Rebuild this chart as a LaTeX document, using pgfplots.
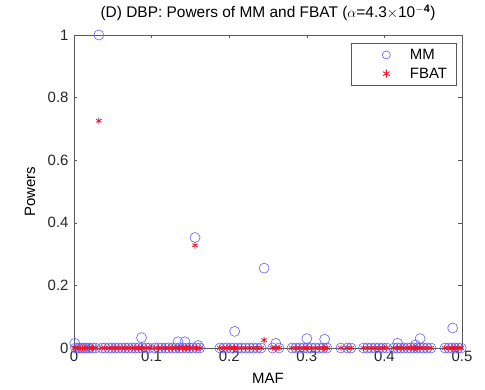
\documentclass[border=0pt]{standalone}
\usepackage{pgfplots}
\pgfplotsset{compat=1.18}
\usepackage{fontspec}
\setmainfont{Liberation Sans}
\definecolor{mmblue}{RGB}{95,95,245}
\definecolor{fbred}{RGB}{235,20,40}
\begin{document}
\begin{tikzpicture}
\useasboundingbox (-74bp,-42bp) rectangle (411bp,348bp);
\begin{axis}[
  scale only axis,
  width=388bp, height=313bp,
  at={(0,0)}, anchor=south west,
  xmin=0, xmax=0.5, ymin=0, ymax=1,
  xtick={0,0.1,...,0.5}, ytick={0,0.2,...,1},
  xticklabels={0,0.1,0.2,0.3,0.4,0.5},
  yticklabels={0,0.2,0.4,0.6,0.8,1},
  tick align=inside, tick pos=both,
  major tick length=3.5bp,
  axis line style={gray!70!black, line width=0.5pt},
  every tick/.style={gray!70!black},
  tick label style={font=\fontsize{15}{17}\selectfont, text=black!85},
  yticklabel style={xshift=-2bp},
  title={(D) DBP: Powers of MM and FBAT ($\alpha$=4.3$\times$10$^{\mathbf{-4}}$)},
  title style={font=\fontsize{15.5}{17}\selectfont, at={(axis description cs:0.5,1)}, anchor=south, yshift=5bp},
  xlabel={MAF}, ylabel={Powers},
  label style={font=\fontsize{15}{17}\selectfont},
  xlabel style={at={(axis description cs:0.5,-0.096)}, anchor=center},
  ylabel style={at={(axis description cs:-0.113,0.5)}, anchor=center},
  clip=false,
  legend style={at={(0.985,0.975)}, anchor=north east, draw=gray!70!black,
    font=\fontsize{15}{17}\selectfont, inner xsep=7bp, inner ysep=4bp,
    row sep=3bp, cells={anchor=west}},
  legend cell align=left,
  legend image code/.code={\path[draw=none] (0,0) -- (1.76cm,0); \draw[#1] plot coordinates {(1.0cm,0cm)};},
  legend image post style={mark size=4bp},
]
\addplot[only marks, mark=o, mark size=5bp, color=mmblue, line width=0.6pt] coordinates {
(0.032,1) (0.156,0.353) (0.245,0.255) (0.207,0.053) (0.087,0.033) (0.134,0.02)
(0.143,0.02) (0.001,0.015) (0.26,0.015) (0.30,0.03) (0.323,0.028) (0.417,0.015)
(0.446,0.03) (0.488,0.064) (0.44,0.01) (0.16,0.008)
(0.002,0) (0.005,0) (0.008,0) (0.011,0) (0.014,0) (0.017,0) (0.02,0) (0.024,0) (0.028,0)
(0.036,0) (0.04,0) (0.045,0) (0.049,0) (0.053,0) (0.057,0) (0.062,0) (0.066,0)
(0.07,0) (0.075,0) (0.079,0) (0.083,0) (0.088,0) (0.093,0) (0.097,0) (0.104,0)
(0.109,0) (0.113,0) (0.118,0) (0.122,0) (0.127,0) (0.131,0) (0.136,0) (0.14,0)
(0.145,0) (0.149,0) (0.153,0) (0.158,0) (0.162,0)
(0.188,0) (0.193,0) (0.197,0) (0.202,0) (0.206,0) (0.211,0) (0.216,0) (0.221,0)
(0.226,0) (0.231,0) (0.236,0) (0.241,0)
(0.256,0) (0.264,0)
(0.281,0) (0.286,0) (0.291,0) (0.296,0) (0.301,0) (0.306,0) (0.311,0) (0.316,0)
(0.321,0) (0.326,0)
(0.344,0) (0.352,0) (0.357,0)
(0.373,0) (0.378,0) (0.383,0) (0.388,0) (0.393,0) (0.398,0) (0.403,0)
(0.412,0) (0.417,0) (0.421,0) (0.425,0) (0.43,0) (0.434,0) (0.438,0) (0.442,0)
(0.446,0) (0.45,0) (0.455,0) (0.46,0)
(0.478,0) (0.483,0) (0.487,0) (0.491,0) (0.495,0) (0.499,0)
};
\addlegendentry{MM}
\addplot[only marks, mark=asterisk, mark size=3.2bp, color=fbred, line width=0.8pt] coordinates {
(0.032,0.726) (0.156,0.328) (0.245,0.025)
(0.207,0) (0.087,0) (0.134,0) (0.143,0) (0.001,0) (0.26,0) (0.30,0) (0.323,0)
(0.488,0) (0.44,0)
(0.002,0) (0.005,0) (0.008,0) (0.011,0) (0.014,0) (0.017,0) (0.02,0) (0.024,0) (0.028,0)
(0.036,0) (0.04,0) (0.045,0) (0.049,0) (0.053,0) (0.057,0) (0.062,0) (0.066,0)
(0.07,0) (0.075,0) (0.079,0) (0.083,0) (0.088,0) (0.093,0) (0.097,0) (0.104,0)
(0.109,0) (0.113,0) (0.118,0) (0.122,0) (0.127,0) (0.131,0) (0.136,0) (0.14,0)
(0.145,0) (0.149,0) (0.153,0) (0.158,0) (0.162,0)
(0.188,0) (0.193,0) (0.197,0) (0.202,0) (0.206,0) (0.211,0) (0.216,0) (0.221,0)
(0.226,0) (0.231,0) (0.236,0) (0.241,0)
(0.256,0) (0.264,0)
(0.281,0) (0.286,0) (0.291,0) (0.296,0) (0.301,0) (0.306,0) (0.311,0) (0.316,0)
(0.321,0) (0.326,0)
(0.344,0) (0.352,0) (0.357,0)
(0.373,0) (0.378,0) (0.383,0) (0.388,0) (0.393,0) (0.398,0) (0.403,0)
(0.412,0) (0.417,0) (0.421,0) (0.425,0) (0.43,0) (0.434,0) (0.438,0) (0.442,0)
(0.446,0) (0.45,0) (0.455,0) (0.46,0)
(0.478,0) (0.483,0) (0.487,0) (0.491,0) (0.495,0) (0.499,0)
};
\addlegendentry{FBAT}
\end{axis}
\end{tikzpicture}
\end{document}
